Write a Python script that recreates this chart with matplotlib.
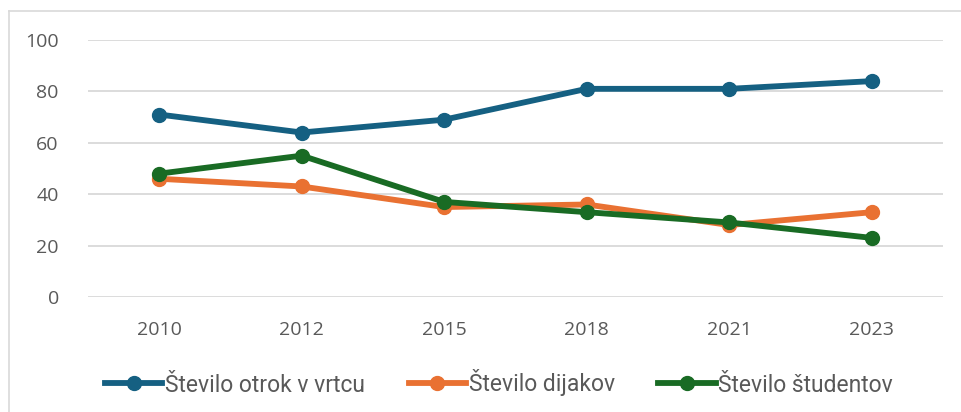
import matplotlib.pyplot as plt
from matplotlib.lines import Line2D
from matplotlib import font_manager

# 数据
years = ['2010', '2012', '2015', '2018', '2021', '2023']
otroci_vrtec = [71, 64, 69, 81, 81, 84]
dijaki = [46, 43, 35, 36, 28, 33]
studenti = [48, 55, 37, 33, 29, 23]
labels = ['Število otrok v vrtcu', 'Število dijakov', 'Število študentov']
colors = ['#156082', '#E97132', '#196B24']

names = {f.name for f in font_manager.fontManager.ttflist}
legend_font = 'Liberation Sans Narrow' if 'Liberation Sans Narrow' in names else 'Roboto'
plt.rcParams['font.family'] = ['Open Sans', 'DejaVu Sans']

fig = plt.figure(figsize=(9.62, 4.12), dpi=100)
ax = fig.add_axes([88/962, 1-297/412, (943-88)/962, (297-40)/412])

x = range(len(years))
for vals, c, lab in zip([otroci_vrtec, dijaki, studenti], colors, labels):
    ax.plot(x, vals, color=c, lw=4.2, marker='o', ms=10, label=lab,
            solid_capstyle='round', solid_joinstyle='round')

ax.set_xlim(-0.5, len(years)-0.5)
ax.set_ylim(0, 100)
ax.set_yticks(range(0, 101, 20))
ax.set_xticks(list(x))
ax.set_xticklabels(years)
ax.grid(axis='y', color='#D9D9D9', lw=1.3)
ax.set_axisbelow(True)
for s in ax.spines.values():
    s.set_visible(False)
ax.tick_params(length=0, labelsize=14, labelcolor='#595959')
ax.tick_params(axis='y', pad=21)
ax.tick_params(axis='x', pad=17)

# 图例
handles = [Line2D([], [], color=c, lw=4.2, marker='o', ms=10) for c in colors]
leg = fig.legend(handles, labels, loc='center', bbox_to_anchor=(499/962, 1-383/412),
                 ncol=3, frameon=False, handlelength=2.5, handletextpad=0.12,
                 columnspacing=1.9, prop={'family': legend_font, 'size': 16.5})
for t in leg.get_texts():
    t.set_color('#595959')

# 外框
fig.add_artist(Line2D([9/962, 9/962], [0, 1-11/412], color='#D9D9D9', lw=1.2))
fig.add_artist(Line2D([9/962, 1], [1-11/412, 1-11/412], color='#D9D9D9', lw=1.2))

fig.savefig('out.png', dpi=100)
